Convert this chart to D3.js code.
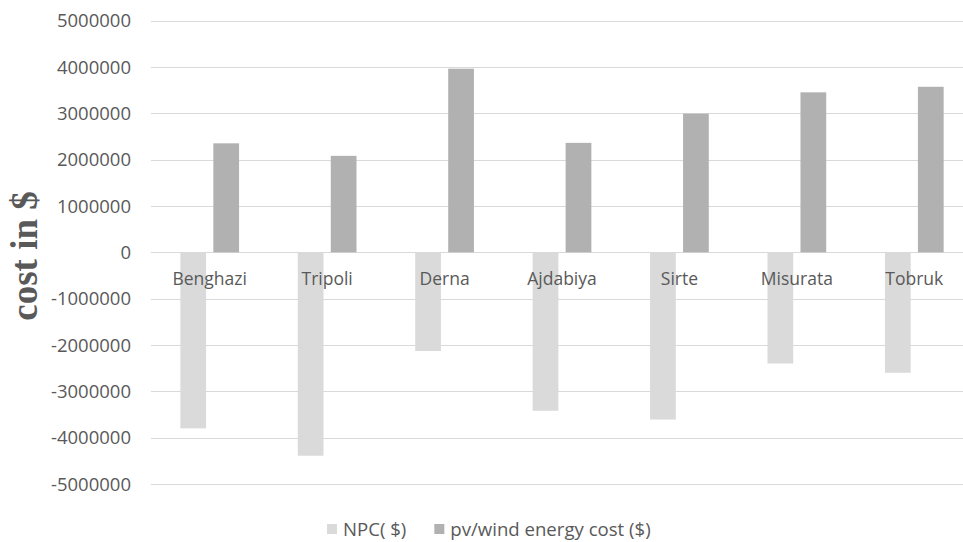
<!DOCTYPE html>
<html>
<head>
<meta charset="utf-8">
<title>cost in $</title>
<script src="https://d3js.org/d3.v7.min.js"></script>
<style>
 html, body { margin: 0; padding: 0; background: #fff; }
 .tick-label, .cat-label, .legend-label {
     font-family: "Open Sans", sans-serif;
     font-size: 17.5px;
     fill: #595959;
 }
 .tick-label { font-size: 18.5px; }
 .legend-label { font-size: 18.6px; }
 .y-title {
     font-family: "Liberation Serif", serif;
     font-weight: bold;
     font-size: 37px;
     fill: #595959;
 }
</style>
</head>
<body>
<div id="chart"></div>
<script>
 // data
 const cities = ["Benghazi", "Tripoli", "Derna", "Ajdabiya", "Sirte", "Misurata", "Tobruk"]
 const npc = [-3800000, -4390000, -2130000, -3420000, -3610000, -2400000, -2600000]
 const pvWind = [2350000, 2080000, 3960000, 2360000, 2990000, 3450000, 3570000]
 const seriesNames = ["NPC( $)", "pv/wind energy cost ($)"]
 const yTicks = [5000000, 4000000, 3000000, 2000000, 1000000, 0, -1000000, -2000000, -3000000, -4000000, -5000000]

 const colors = {"NPC( $)": "#dadada", "pv/wind energy cost ($)": "#b1b1b1"}

 const width = 963, height = 542
 const plot = {left: 151, right: 973, top: 20.5, bottom: 484}

 const svg = d3.select("#chart").append("svg")
     .attr("width", width)
     .attr("height", height)

 const x = d3.scaleBand()
     .domain(cities)
     .range([plot.left, plot.right])
     .paddingInner(0.5)
     .paddingOuter(0.25)

 const xs = d3.scaleBand()
     .domain(seriesNames)
     .range([0, x.bandwidth()])
     .paddingInner(0.22)

 const y = d3.scaleLinear()
     .domain([-5000000, 5000000])
     .range([plot.bottom, plot.top])

 // gridlines
 svg.append("g")
     .selectAll("line")
     .data(yTicks)
     .join("line")
     .attr("x1", plot.left)
     .attr("x2", plot.right)
     .attr("y1", d => Math.round(y(d)) + 0.5)
     .attr("y2", d => Math.round(y(d)) + 0.5)
     .attr("stroke", "#d9d9d9")
     .attr("stroke-width", 1)

 // y tick labels (plain hyphen for negatives, like the original)
 svg.append("g")
     .selectAll("text")
     .data(yTicks)
     .join("text")
     .attr("class", "tick-label")
     .attr("x", 131)
     .attr("y", d => y(d))
     .attr("dy", "0.36em")
     .attr("text-anchor", "end")
     .text(d => String(d))

 // bars
 const rows = cities.map((c, i) => ({city: c, values: [
     {key: seriesNames[0], value: npc[i]},
     {key: seriesNames[1], value: pvWind[i]}
 ]}))

 svg.append("g")
     .selectAll("g")
     .data(rows)
     .join("g")
     .attr("transform", d => "translate(" + x(d.city) + ",0)")
     .selectAll("rect")
     .data(d => d.values)
     .join("rect")
     .attr("x", d => xs(d.key))
     .attr("width", xs.bandwidth())
     .attr("y", d => y(Math.max(0, d.value)))
     .attr("height", d => Math.abs(y(d.value) - y(0)))
     .attr("fill", d => colors[d.key])

 // category labels, drawn over the bars
 svg.append("g")
     .selectAll("text")
     .data(cities)
     .join("text")
     .attr("class", "cat-label")
     .attr("x", d => x(d) + x.bandwidth() / 2)
     .attr("y", 285)
     .attr("text-anchor", "middle")
     .text(d => d)

 // y axis title
 svg.append("text")
     .attr("class", "y-title")
     .attr("transform", "translate(37,256) rotate(-90)")
     .attr("text-anchor", "middle")
     .text("cost in $")

 // legend
 const legend = svg.append("g").attr("transform", "translate(327,524)")
 let lx = 0
 seriesNames.forEach(name => {
     const item = legend.append("g").attr("transform", "translate(" + lx + ",0)")
     item.append("rect")
         .attr("width", 10)
         .attr("height", 10)
         .attr("fill", colors[name])
     const t = item.append("text")
         .attr("class", "legend-label")
         .attr("x", 16)
         .attr("y", 5)
         .attr("dy", "0.36em")
         .text(name)
     lx += 16 + t.node().getComputedTextLength() + 28
 })
</script>
</body>
</html>
